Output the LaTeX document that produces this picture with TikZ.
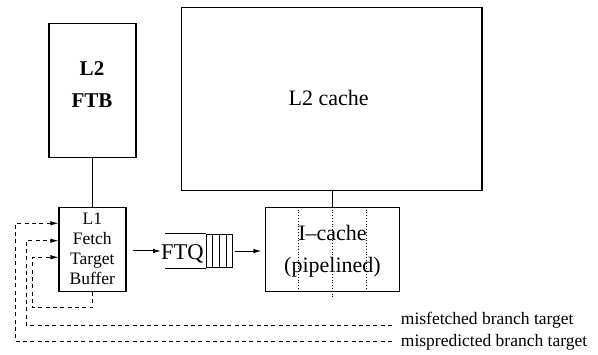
\documentclass[tikz,border=0pt]{standalone}
\usepackage{fontspec}
\setmainfont{Liberation Serif}
\usetikzlibrary{arrows.meta,calc}
\begin{document}
\begin{tikzpicture}[x=1pt,y=-1pt,
  box/.style={draw, line width=1.1pt, inner sep=0pt},
  wire/.style={line width=1pt},
  fb/.style={line width=0.9pt, dash pattern=on 4pt off 3.3pt},
  fbthin/.style={line width=0.7pt, dash pattern=on 4pt off 3.3pt},
  dotline/.style={line width=0.8pt, dash pattern=on 1pt off 1.8pt},
  tip/.style={-{Latex[length=8pt,width=4.5pt]}},
  txt/.style={inner sep=0pt, anchor=base},
  big/.style={font=\fontsize{22}{26}\selectfont},
  mid/.style={font=\fontsize{17.5}{20}\selectfont}
]
\useasboundingbox (0,0) rectangle (598,355);

% blocks
\node[box, minimum width=87pt, minimum height=134pt] (l2ftb) at (92.5,90.3) {};
\node[box, minimum width=300.3pt, minimum height=183.4pt] (l2c) at (331.85,99) {};
\node[box, minimum width=67pt, minimum height=84.2pt] (l1) at (92.5,249.4) {};
\node[box, minimum width=134pt, minimum height=84pt] (ic) at (332.5,249.3) {};

% block labels
\node[txt, font=\fontsize{21}{25}\selectfont\bfseries] (t1) at (92,76) {L2};
\node[txt, font=\fontsize{21}{25}\selectfont\bfseries] (t2) at (92,107.3) {FTB};
\node[txt, big] (t3) at (328.7,106) {L2 cache};
\node[txt, mid] (t4) at (92.3,224.3) {L1};
\node[txt, mid] (t5) at (92.3,245) {Fetch};
\node[txt, mid] (t6) at (92.3,265) {Target};
\node[txt, mid] (t7) at (92.3,285) {Buffer};
\node[txt, big] (t8) at (332.5,240.7) {I–cache};
\node[txt, big] (t9) at (332.5,272.7) {(pipelined)};

% fetch target queue
\node[inner sep=0pt, anchor=base west, font=\fontsize{22.5}{26}\selectfont] (ftq) at (161,260) {FTQ};
\node[draw, line width=0.8pt, inner sep=0pt, minimum width=26.3pt, minimum height=33.7pt] (q) at (219.15,250.85) {};
\draw[line width=0.9pt] (q.north west) -- ++(-40.3,0);
\draw[line width=0.9pt] (q.south west) -- ++(-40.3,0);
\foreach \f in {0.25,0.5,0.75}
  \draw[line width=0.6pt] ($(q.north west)!\f!(q.north east)$) -- ($(q.south west)!\f!(q.south east)$);

% pipeline stages inside the I-cache
\draw[dotline] ($(ic.north west)!0.25!(ic.north east)$) -- ($(ic.south west)!0.25!(ic.south east)$);
\draw[dotline] (ic.north) -- ([yshift=-5pt]ic.south);
\draw[dotline] ($(ic.north west)!0.75!(ic.north east)$) -- ($(ic.south west)!0.75!(ic.south east)$);

% solid connections
\draw[wire] (l2ftb.south) -- (l1.north);
\draw[wire] (l2c.south -| ic.north) -- (ic.north);
\draw[wire, tip] ([xshift=6pt,yshift=-1.6pt]l1.east) -- ([yshift=-1.6pt]l1.east -| ftq.west);
\draw[wire, tip, shorten >=3.5pt] ([xshift=2pt,yshift=-0.2pt]q.east) -- ([yshift=-0.2pt]q.east -| ic.west);

% feedback paths
\node[txt, anchor=base west, mid] (mf) at (400.7,325) {misfetched branch target};
\node[txt, anchor=base west, mid] (mp) at (400.7,346.5) {mispredicted branch target};

\coordinate (in1) at ([yshift=26.1pt]l1.west);
\coordinate (in2) at ([yshift=8.7pt]l1.west);
\coordinate (in3) at ([yshift=-7.9pt]l1.west);
\coordinate (cOut) at (15.7,341.7);
\coordinate (cMid) at (26,325);
\coordinate (cIn) at (32.7,307.7);

\draw[fb, tip] ([xshift=-8.7pt,yshift=4.8pt]mp.base west) -- (cOut) |- (in1);
\draw[fb, tip] ([xshift=-8.7pt]mf.base west) -- (cMid) |- (in2);
\draw[fbthin, tip] (l1.south) |- (cIn) |- (in3);
\end{tikzpicture}
\end{document}
